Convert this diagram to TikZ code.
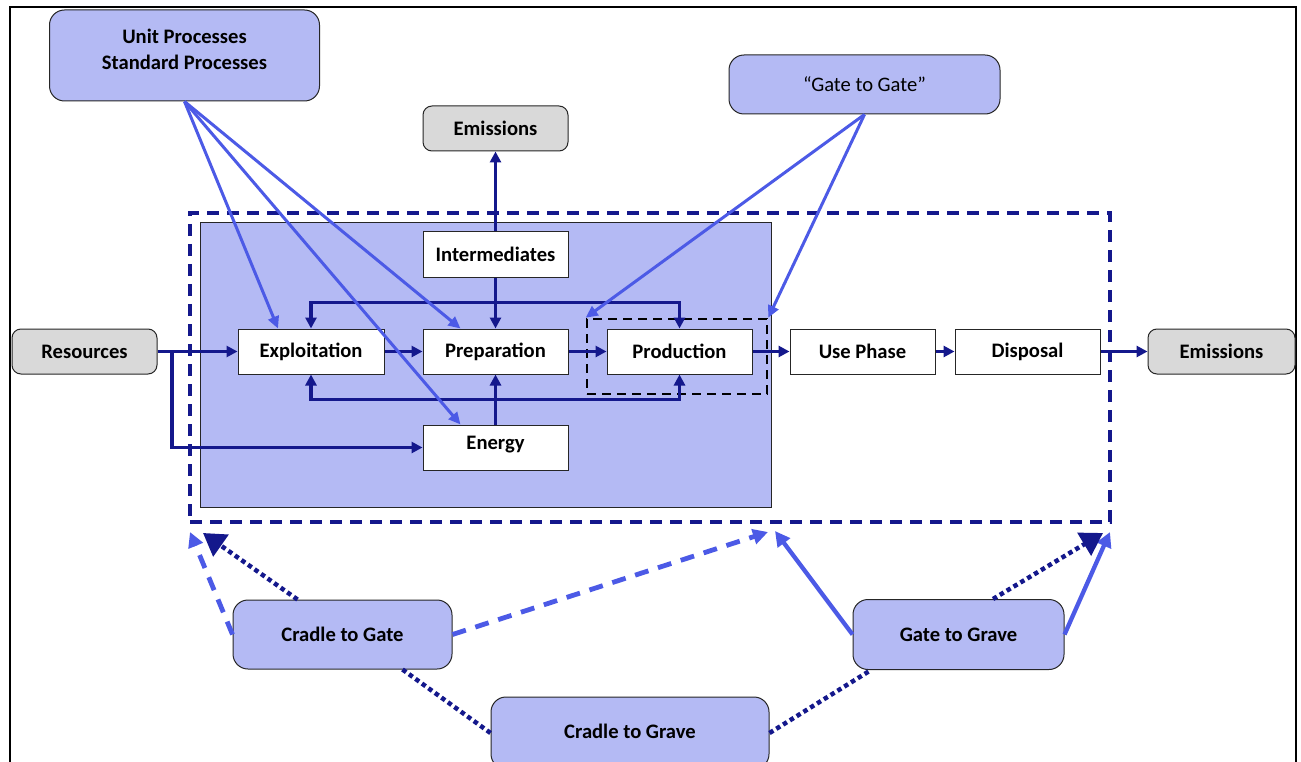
\documentclass[tikz,border=0pt]{standalone}
\usepackage{fontspec}
\setmainfont{Carlito}
\usetikzlibrary{arrows.meta}
\definecolor{fillblue}{RGB}{180,186,244}
\definecolor{navy}{RGB}{20,24,140}
\definecolor{lineblue}{RGB}{76,90,230}
\definecolor{boxgray}{RGB}{217,217,217}
\begin{document}
\begin{tikzpicture}[x=1pt,y=-1pt,
  every node/.style={font=\fontsize{20.6}{26}\selectfont\bfseries, inner sep=0pt},
  proc/.style={draw=black!85, line width=1pt, fill=white, minimum width=146pt, minimum height=45pt},
  graybox/.style={draw=black!85, line width=1pt, fill=boxgray, rounded corners=9pt, minimum width=146pt, minimum height=45pt},
  bluebox/.style={draw=black!85, line width=1pt, fill=fillblue, rounded corners=15pt},
  nav/.style={draw=navy, line width=3.7pt, -{Triangle[length=11pt,width=11pt]}},
  lb/.style={draw=lineblue, line width=3pt, -{Triangle[length=12pt,width=11pt]}},
  lbdash/.style={draw=lineblue, line width=4.8pt, dash pattern=on 14pt off 10pt, -{Triangle[length=15pt,width=15pt]}},
  lbsolid/.style={draw=lineblue, line width=4.3pt, -{Triangle[length=15pt,width=15pt]}},
  dotline/.style={draw=navy, line width=4.5pt, dash pattern=on 4.5pt off 3.5pt},
  bigtip/.style={-{Triangle[length=22pt,width=26pt]}}
]
\useasboundingbox (0,0) rectangle (1301,762);
% frame
\draw[line width=2pt, black] (10,775) -- (10,7) -- (1296,7) -- (1296,775);

% system boundary and foreground
\node[draw=navy, line width=3.2pt, dash pattern=on 12pt off 8pt, minimum width=920pt, minimum height=309pt] (sys) at (650,367.5) {};
\node[draw=black!85, line width=1pt, fill=fillblue, minimum width=571pt, minimum height=284pt] (fg) at (485.5,365) {};
\node[draw=black, line width=2.6pt, dash pattern=on 9pt off 6pt, minimum width=180pt, minimum height=75pt] (pfr) at (677,356.5) {};

% top boxes
\node[bluebox, minimum width=270pt, minimum height=91pt] (up) at (184.5,55.5) {};
\node[align=center] (uptext) at (184.5,49.5) {Unit Processes\\Standard Processes};
\node[bluebox, minimum width=271pt, minimum height=59pt, font=\fontsize{20.6}{26}\selectfont\mdseries] (gtg) at (864.5,84.5) {“Gate to Gate”};
\node[graybox, minimum width=145pt] (emtop) at (495.5,128.5) {Emissions};

% process boxes
\node[proc, minimum width=145pt] (inter) at (495.5,254.5) {Intermediates};
\node[proc] (expl) at (311,351.5) {Exploitation};
\node[proc, minimum width=145pt] (prep) at (495.5,351.5) {Preparation};
\node[proc, minimum width=145pt] (prod) at (679.5,351.5) {Production};
\node[proc, minimum width=145pt] (use) at (862.5,351.5) {Use Phase};
\node[proc, minimum width=145pt] (disp) at (1027.5,351.5) {Disposal};
\node[proc, minimum width=145pt] (energy) at (495.5,447.5) {\raisebox{9pt}{Energy}};
\node[graybox, minimum width=145pt] (res) at (84.5,351.5) {Resources};
\node[graybox, minimum width=147pt] (emr) at (1221.5,351.5) {Emissions};

% bottom boxes
\node[bluebox, minimum width=219pt, minimum height=69pt] (ctg) at (342.5,634.5) {Cradle to Gate};
\node[bluebox, minimum width=211pt, minimum height=70pt] (gtgr) at (958.5,634.5) {Gate to Grave};
\node[bluebox, minimum width=278pt, minimum height=72pt] (ctgr) at (630,733) {\raisebox{4pt}{Cradle to Grave}};

% navy flow connectors
\coordinate (br) at (172,351.5);
\draw[nav] (res) -- (expl);
\draw[nav] (br) |- (energy.west);
\draw[nav] (expl) -- (prep);
\draw[nav] (prep) -- (prod);
\draw[nav] (prod) -- (use);
\draw[nav] (use) -- (disp);
\draw[nav] (disp) -- (emr);
\draw[nav] (inter.south) -- (prep.north);
\draw[nav] (inter.north) -- (emtop.south);
\draw[nav, {Triangle[length=11pt,width=11pt]}-{Triangle[length=11pt,width=11pt]}] (expl.north) -- ++(0,-26) -| (prod.north);
\draw[nav, {Triangle[length=11pt,width=11pt]}-{Triangle[length=11pt,width=11pt]}] (expl.south) -- ++(0,25) -| (prod.south);
\draw[nav] (energy.north) -- (prep.south);

% light blue pointers
\draw[lb] (up.south) -- ([xshift=-33pt]expl.north);
\draw[lb] (up.south) -- ([xshift=-35pt]prep.north);
\draw[lb] (up.south) -- ([xshift=-35pt]energy.north);
\draw[lb] (gtg.south) -- (pfr.north west);
\draw[lb] (gtg.south) -- (pfr.north east);

% bottom scope pointers
\coordinate (tl1) at (190,532);
\coordinate (tl2) at (203,533);
\coordinate (tm1) at (768,532);
\coordinate (tm2) at (775,531);
\coordinate (tr1) at (1103,533);
\coordinate (tr2) at (1110,532);
\draw[lbdash] (ctg.west) -- (tl1);
\draw[dotline, bigtip] ([xshift=-45pt]ctg.north) -- (tl2);
\draw[lbdash] (ctg.east) -- (tm1);
\draw[lbsolid] (gtgr.west) -- (tm2);
\draw[lbsolid] (gtgr.east) -- (tr2);
\draw[dotline, bigtip] ([xshift=34.5pt]gtgr.north) -- (tr1);
\draw[dotline] ([xshift=60pt]ctg.south) -- (ctgr.west);
\draw[dotline] (ctgr.east) -- ([xshift=-87.5pt]gtgr.south);
\end{tikzpicture}
\end{document}
